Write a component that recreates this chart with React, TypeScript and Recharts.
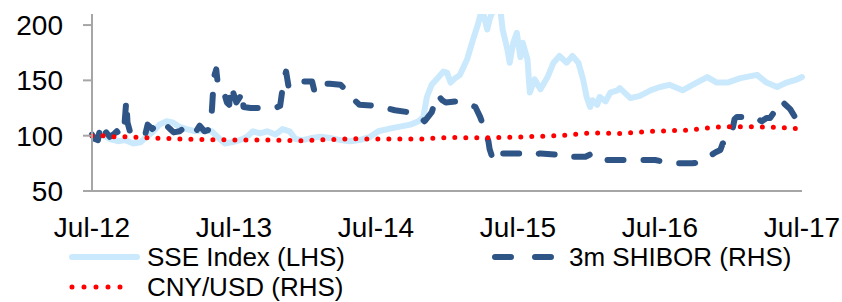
import React from 'react';
import { LineChart, Line, XAxis, YAxis, Legend } from 'recharts';

// Months since Jul-12 (0 = Jul-12, 60 = Jul-17)
const tickMonths = [0, 12, 24, 36, 48, 60];
const tickLabels = ['Jul-12', 'Jul-13', 'Jul-14', 'Jul-15', 'Jul-16', 'Jul-17'];
const yTicks = [50, 100, 150, 200];

const sseMonths = [0, 0.4, 0.9, 1.5, 2.2, 2.8, 3.5, 4.1, 4.6, 5.2, 5.7, 6.3, 6.8, 7.4, 8.0, 8.7, 9.4, 10.1, 10.8, 11.2, 11.8, 12.5, 13.1, 13.6, 14.2, 14.8, 15.5, 16.1, 16.7, 17.2, 17.8, 18.6, 19.3, 20.1, 21.0, 21.8, 22.6, 23.5, 24.2, 25.0, 25.9, 26.9, 27.6, 28.0, 28.3, 28.7, 29.2, 29.7, 30.0, 30.3, 30.7, 31.1, 31.7, 32.2, 32.6, 32.96, 33.4, 33.6, 34.1, 34.5, 34.7, 35.1, 35.3, 35.6, 35.9, 36.2, 36.4, 36.8, 37.0, 37.4, 37.9, 38.5, 39.0, 39.5, 40.1, 40.6, 41.1, 41.5, 41.8, 42.1, 42.3, 42.7, 42.9, 43.4, 43.8, 44.4, 44.6, 45.5, 46.3, 47.2, 48.0, 48.8, 49.9, 51.1, 52.0, 52.8, 53.7, 54.8, 56.2, 57.0, 57.9, 58.7, 59.6, 60.0];
const sseValues = [100, 98, 101, 97, 95, 96, 93, 94, 99, 104, 110, 113, 112, 108, 106, 104, 105, 104, 97, 93, 94, 96, 99, 104, 102, 104, 101, 106, 104, 97, 96, 98, 99, 98, 96, 95, 96, 99, 104, 106, 108, 110, 113, 117, 135, 146, 152, 158, 157, 148, 152, 155, 169, 187, 200, 215, 196, 205, 220, 215, 196, 178, 166, 184, 193, 171, 184, 169, 139, 151, 142, 153, 166, 172, 166, 172, 166, 151, 135, 126, 132, 128, 135, 131, 139, 141, 143, 134, 136, 141, 144, 146, 141, 148, 153, 148, 148, 152, 155, 148, 144, 148, 151, 153];

const shiborMonths = [0, 0.25, 0.5, 0.7, 0.85, 1.2, 1.5, 1.8, 2.1, 2.4, 2.7, 2.9, 3.0, 3.2, 3.5, 4.1, 4.5, 4.7, 5.1, 5.4, 5.7, 6.2, 6.6, 6.9, 7.4, 7.9, 8.3, 8.8, 9.1, 9.5, 9.8, 10.05, 10.15, 10.3, 10.5, 10.6, 10.9, 11.1, 11.4, 11.6, 11.7, 11.9, 12.2, 12.5, 12.7, 12.8, 13.4, 14.6, 15.5, 15.9, 16.2, 16.4, 16.6, 16.9, 17.2, 17.6, 18.6, 18.8, 19.1, 20.1, 21.0, 21.6, 22.1, 22.6, 24.1, 25.6, 26.9, 27.6, 28.1, 28.7, 29.2, 29.6, 29.9, 30.7, 31.5, 32.4, 32.8, 33.2, 33.5, 33.6, 33.9, 34.2, 34.6, 36.2, 37.0, 37.9, 39.1, 39.5, 40.8, 41.7, 42.1, 42.5, 42.9, 43.6, 44.6, 45.9, 47.6, 49.0, 50.7, 51.4, 52.1, 52.7, 53.1, 53.3, 53.8, 54.1, 54.3, 54.5, 55.2, 56.0, 56.3, 56.6, 57.0, 57.3, 57.7, 57.9, 58.3, 58.6, 59.0, 59.4, 60.0];
const shiborValues = [101, 97, 96, 108, 100, 103, 99, 101, 104, 100, 104, 132, 112, 104, 101, 103, 101, 110, 106, 110, 107, 110, 106, 103, 104, 108, 103, 104, 109, 104, 105, 112, 126, 153, 160, 150, 148, 141, 130, 128, 145, 140, 130, 135, 140, 126, 125, 125, 125, 127, 150, 158, 145, 150, 151, 149, 149, 140, 147, 147, 146, 140, 133, 128, 127, 123, 121, 118, 113, 121, 137, 132, 130, 131, 130, 126, 117, 105, 95, 88, 78, 77, 84, 84, 82, 84, 83, 81, 81, 81, 83, 80, 77, 78, 78, 78, 78, 75, 75, 76, 81, 85, 87, 93, 96, 104, 115, 117, 117, 117, 115, 113, 116, 116, 122, 129, 131, 128, 124, 117, 113];

const cnyMonths = [0, 0.9, 1.9, 3.0, 4.9, 7.4, 9.5, 12.5, 15.0, 17.2, 18.0, 20.1, 22.0, 24.3, 27.7, 30.3, 32.8, 35.3, 37.9, 39.5, 42.1, 44.6, 47.2, 50.5, 52.0, 53.1, 56.5, 59.0, 60.0];
const cnyValues = [100, 100, 99, 99, 98, 97, 96.5, 96, 96, 95.5, 95.5, 96.5, 97.2, 97, 97, 98.5, 98, 98.5, 99.5, 100, 102.5, 102, 104, 105, 107, 108, 108, 107, 106];

const sseData = sseMonths.map((m, i) => ({ m, v: sseValues[i] }));
const shiborData = shiborMonths.map((m, i) => ({ m, v: shiborValues[i] }));
const cnyData = cnyMonths.map((m, i) => ({ m, v: cnyValues[i] }));

const FONT = '"Liberation Sans", Arial, sans-serif';
const SSE_COLOR = '#cbe9fc';
const SHIBOR_COLOR = '#2f5587';
const CNY_COLOR = '#ff0000';
const AXIS_COLOR = '#a6a6a6';

const renderLegend = () => (
  <svg width={842} height={62} style={{ display: 'block', overflow: 'visible' }}>
    <line x1={72} y1={17} x2={137} y2={17} stroke={SSE_COLOR} strokeWidth={6} strokeLinecap="round" />
    <text x={147} y={26} fontSize={26} fontFamily={FONT} fill="#000">SSE Index (LHS)</text>
    <line x1={495} y1={17} x2={551} y2={17} stroke={SHIBOR_COLOR} strokeWidth={6} strokeLinecap="round" strokeDasharray="16 24" />
    <text x={569} y={26} fontSize={26} fontFamily={FONT} fill="#000">3m SHIBOR (RHS)</text>
    <line x1={72} y1={47} x2={132} y2={47} stroke={CNY_COLOR} strokeWidth={5} strokeLinecap="round" strokeDasharray="0 12" />
    <text x={147} y={56} fontSize={26} fontFamily={FONT} fill="#000">CNY/USD (RHS)</text>
  </svg>
);

export default function App() {
  return (
    <div style={{ position: 'absolute', left: 0, top: 0, width: 842, height: 302, background: '#fff' }}>
      <LineChart width={842} height={302} margin={{ top: 14, right: 40, left: 0, bottom: 51 }}>
        <XAxis
          type="number"
          dataKey="m"
          domain={[0, 60]}
          ticks={tickMonths}
          interval={0}
          tickFormatter={(v: number) => tickLabels[tickMonths.indexOf(v)]}
          tickLine={false}
          tickSize={0}
          tickMargin={26}
          height={60}
          axisLine={{ stroke: AXIS_COLOR, strokeWidth: 2 }}
          tick={{ fill: '#000', fontSize: 28, fontFamily: FONT }}
          allowDuplicatedCategory={false}
        />
        <YAxis
          type="number"
          domain={[50, 210]}
          ticks={yTicks}
          allowDataOverflow
          width={92}
          tickSize={9}
          tickMargin={20}
          axisLine={{ stroke: AXIS_COLOR, strokeWidth: 2 }}
          tickLine={{ stroke: AXIS_COLOR, strokeWidth: 2 }}
          tick={{ fill: '#000', fontSize: 28, fontFamily: FONT }}
        />
        <Legend
          content={renderLegend}
          layout="horizontal"
          verticalAlign="middle"
          align="center"
          wrapperStyle={{ top: 240, left: 0, width: 842, height: 62 }}
        />
        <Line data={sseData} dataKey="v" type="linear" dot={false} stroke={SSE_COLOR} strokeWidth={6} strokeLinejoin="round" strokeLinecap="round" isAnimationActive={false} />
        <Line data={shiborData} dataKey="v" type="linear" dot={false} stroke={SHIBOR_COLOR} strokeWidth={6} strokeLinejoin="round" strokeLinecap="round" strokeDasharray="16 20" isAnimationActive={false} />
        <Line data={cnyData} dataKey="v" type="linear" dot={false} stroke={CNY_COLOR} strokeWidth={5} strokeLinecap="round" strokeDasharray="0 11" isAnimationActive={false} />
      </LineChart>
    </div>
  );
}
